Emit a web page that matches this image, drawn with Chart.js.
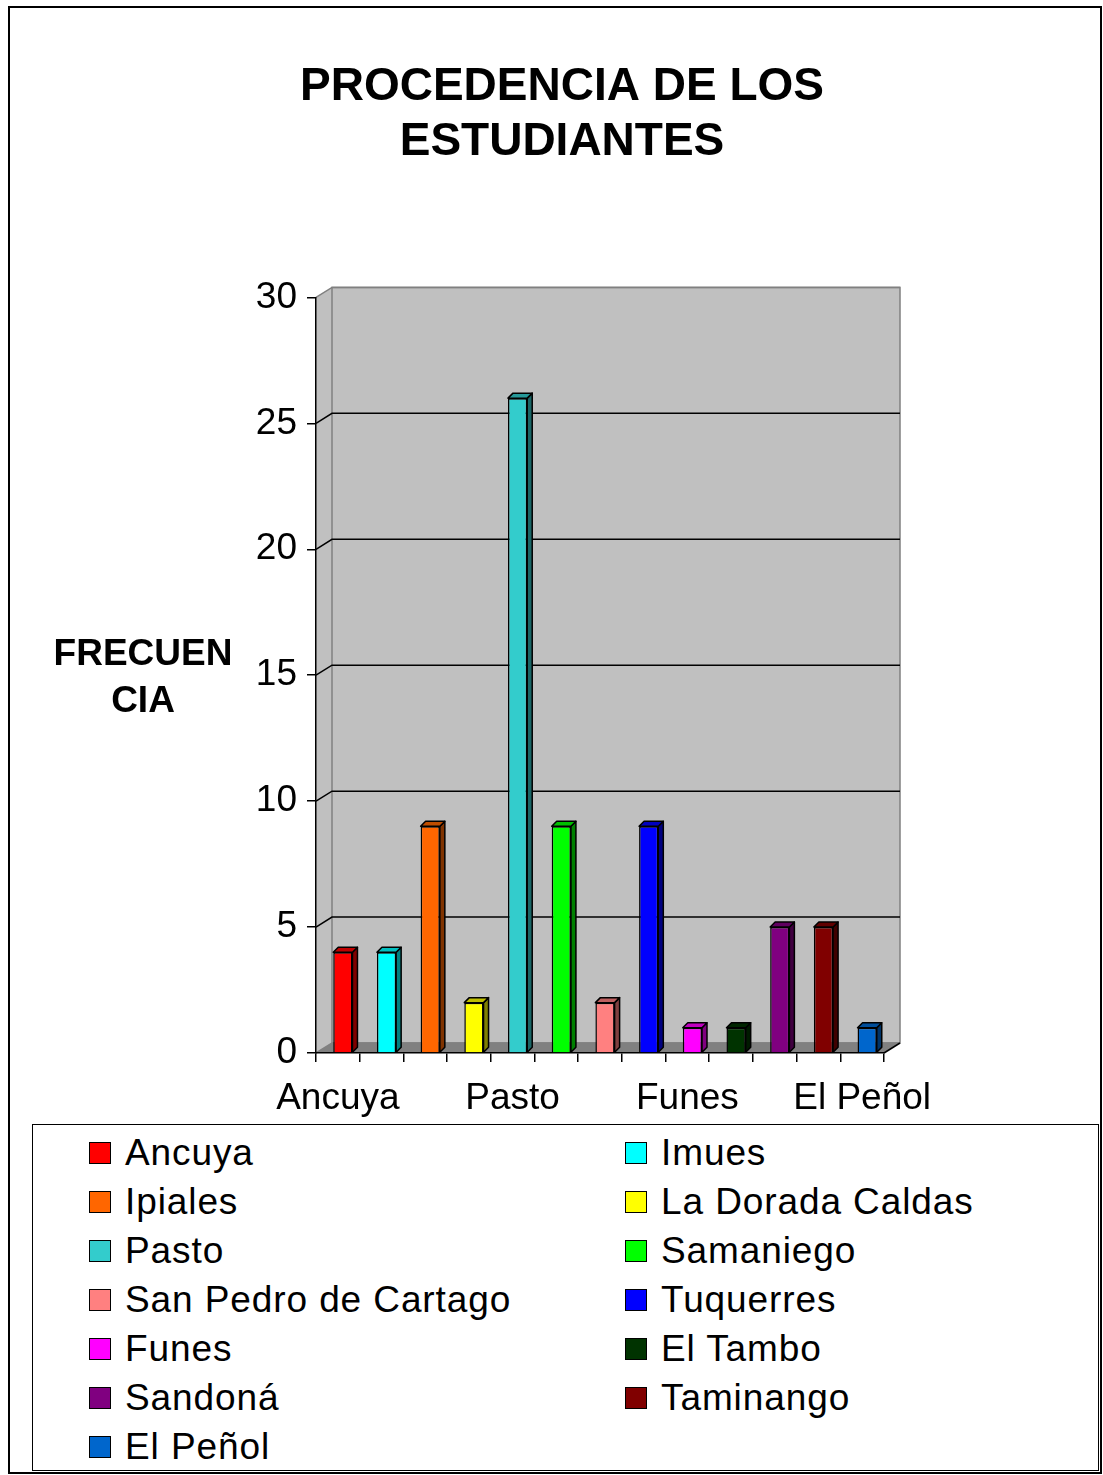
<!DOCTYPE html>
<html>
<head>
<meta charset="utf-8">
<script src="https://cdn.jsdelivr.net/npm/chart.js@4.4.1/dist/chart.umd.min.js"></script>
<style>
  body { margin: 0; background: #fff; font-family: "Liberation Sans", Arial, sans-serif; }
  #wrap { position: relative; width: 1103px; height: 1475px; overflow: hidden; }
  #frame { position: absolute; left: 8px; top: 6px; width: 1090px; height: 1464px; border: 2px solid #000; box-sizing: content-box; }
  #chart { position: absolute; left: 0; top: 0; }
  #legend { position: absolute; left: 32px; top: 1124px; width: 1065px; height: 345px; border: 1.5px solid #000; }
  .item { position: absolute; height: 44px; display: flex; align-items: center; font-size: 37px; letter-spacing: 0.9px; color: #000; white-space: nowrap; }
  .sw { width: 22px; height: 22px; border: 1.5px solid #000; box-sizing: border-box; margin-right: 14px; }
</style>
</head>
<body>
<div id="wrap">
  <div id="frame"></div>
  <canvas id="chart" width="1103" height="1120"></canvas>
  <div id="legend"></div>
</div>
<script>
const categories = ['Ancuya', 'Imues', 'Ipiales', 'La Dorada Caldas', 'Pasto', 'Samaniego',
  'San Pedro de Cartago', 'Tuquerres', 'Funes', 'El Tambo', 'Sandoná', 'Taminango', 'El Peñol'];
const frecuencia = [4, 4, 9, 2, 26, 9, 2, 9, 1, 1, 5, 5, 1];
const barColors = ['#ff0000', '#00ffff', '#ff6600', '#ffff00', '#33cccc', '#00ff00',
  '#ff8080', '#0000ff', '#ff00ff', '#003300', '#800080', '#800000', '#0066cc'];
const titleLines = ['PROCEDENCIA DE LOS', 'ESTUDIANTES'];
const yTitleLines = ['FRECUEN', 'CIA'];

const FONT = '"Liberation Sans", Arial, sans-serif';
const DX = 16, DY = 10;   // depth of the walls
const BD = 5;             // depth of each bar
const SHIFT = 5;          // bars sit a bit into the depth

function shade(hex, f) {
  const n = parseInt(hex.slice(1), 16);
  const r = Math.round(((n >> 16) & 255) * f), g = Math.round(((n >> 8) & 255) * f), b = Math.round((n & 255) * f);
  return `rgb(${r},${g},${b})`;
}

function poly(ctx, pts, fill, stroke) {
  ctx.beginPath();
  ctx.moveTo(pts[0][0], pts[0][1]);
  for (let i = 1; i < pts.length; i++) ctx.lineTo(pts[i][0], pts[i][1]);
  ctx.closePath();
  if (fill) { ctx.fillStyle = fill; ctx.fill(); }
  if (stroke) { ctx.strokeStyle = stroke; ctx.stroke(); }
}

// back wall, side wall, floor and gridlines
const wallPlugin = {
  id: 'walls',
  beforeDraw(chart) {
    const { ctx, chartArea: a, scales: { y } } = chart;
    ctx.save();
    ctx.lineWidth = 1.5;
    poly(ctx, [[a.left, a.top], [a.left + DX, a.top - DY], [a.left + DX, a.bottom - DY], [a.left, a.bottom]], '#c0c0c0');
    ctx.fillStyle = '#c0c0c0';
    ctx.fillRect(a.left + DX, a.top - DY, a.right - a.left, a.bottom - a.top);
    poly(ctx, [[a.left, a.bottom], [a.left + DX, a.bottom - DY], [a.right + DX, a.bottom - DY], [a.right, a.bottom]], '#808080');

    ctx.strokeStyle = '#808080';
    ctx.strokeRect(a.left + DX, a.top - DY, a.right - a.left, a.bottom - a.top);

    y.ticks.forEach(t => {
      const py = y.getPixelForValue(t.value);
      ctx.strokeStyle = (t.value === 0 || t.value === 30) ? '#808080' : '#000';
      ctx.beginPath();
      ctx.moveTo(a.left, py);
      ctx.lineTo(a.left + DX, py - DY);
      ctx.lineTo(a.right + DX, py - DY);
      ctx.stroke();
    });
    ctx.strokeStyle = '#000';
    ctx.beginPath();
    ctx.moveTo(a.right, a.bottom);
    ctx.lineTo(a.right + DX, a.bottom - DY);
    ctx.stroke();
    ctx.restore();
  }
};

// top and side faces of each column
const bar3dPlugin = {
  id: 'bar3d',
  beforeDatasetDraw(chart) {
    chart.ctx.save();
    chart.ctx.translate(SHIFT, 0);
  },
  afterDatasetDraw(chart, args) {
    const ctx = chart.ctx;
    ctx.lineWidth = 1.5;
    ctx.lineJoin = 'round';
    args.meta.data.forEach((bar, i) => {
      const { x, y, base, width } = bar.getProps(['x', 'y', 'base', 'width'], true);
      const l = x - width / 2, r = x + width / 2;
      poly(ctx, [[r, y], [r + BD, y - BD], [r + BD, base - BD], [r, base]], shade(barColors[i], 0.5), '#000');
      poly(ctx, [[l, y], [l + BD, y - BD], [r + BD, y - BD], [r, y]], shade(barColors[i], 0.75), '#000');
    });
    ctx.restore();
  }
};

const yTitlePlugin = {
  id: 'yTitle',
  afterDraw(chart) {
    const ctx = chart.ctx;
    ctx.save();
    ctx.font = 'bold 37px ' + FONT;
    ctx.fillStyle = '#000';
    ctx.textAlign = 'center';
    ctx.textBaseline = 'middle';
    ctx.fillText(yTitleLines[0], 143, 655);
    ctx.fillText(yTitleLines[1], 143, 702);
    ctx.restore();
  }
};

const ctx = document.getElementById('chart').getContext('2d');
const chart = new Chart(ctx, {
  type: 'bar',
  data: {
    labels: categories,
    datasets: [{
      label: 'Frecuencia',
      data: frecuencia,
      backgroundColor: barColors,
      borderColor: '#000',
      borderWidth: 1.5,
      barPercentage: 0.44,
      categoryPercentage: 1
    }]
  },
  options: {
    responsive: false,
    animation: false,
    layout: { padding: { left: 240, right: 219, top: 0, bottom: 0 } },
    plugins: {
      legend: { display: false },
      tooltip: { enabled: false },
      title: {
        display: true,
        text: titleLines,
        color: '#000',
        font: { family: FONT, size: 46, weight: 'bold', lineHeight: 1.2 },
        padding: { top: 60, bottom: 127 }
      }
    },
    scales: {
      x: {
        grid: { display: true, drawOnChartArea: false, drawTicks: true, tickLength: 9, color: '#000', lineWidth: 1.5, offset: true },
        border: { display: true, color: '#000', width: 1.5 },
        ticks: {
          autoSkip: false, maxRotation: 0, minRotation: 0, color: '#000', padding: 15,
          font: { family: FONT, size: 37 },
          callback: (v, i) => (i % 4 === 0 ? categories[i] : '')
        },
        afterFit(s) { s.height = 67; }
      },
      y: {
        min: 0, max: 30,
        grid: { display: true, drawOnChartArea: false, drawTicks: true, tickLength: 9, color: '#000', lineWidth: 1.5 },
        border: { display: true, color: '#000', width: 1.5 },
        ticks: { stepSize: 5, color: '#000', padding: 10, font: { family: FONT, size: 37 } },
        afterFit(s) { s.width = 76; }
      }
    }
  },
  plugins: [wallPlugin, bar3dPlugin, yTitlePlugin]
});

// legend, two columns filled row by row
const legendBox = document.getElementById('legend');
categories.forEach((name, i) => {
  const col = i % 2, row = Math.floor(i / 2);
  const item = document.createElement('div');
  item.className = 'item';
  item.style.left = (col === 0 ? 56 : 592) + 'px';
  item.style.top = (28 + 49 * row - 22) + 'px';
  const sw = document.createElement('span');
  sw.className = 'sw';
  sw.style.background = barColors[i];
  const txt = document.createElement('span');
  txt.textContent = name;
  item.appendChild(sw);
  item.appendChild(txt);
  legendBox.appendChild(item);
});
</script>
</body>
</html>
